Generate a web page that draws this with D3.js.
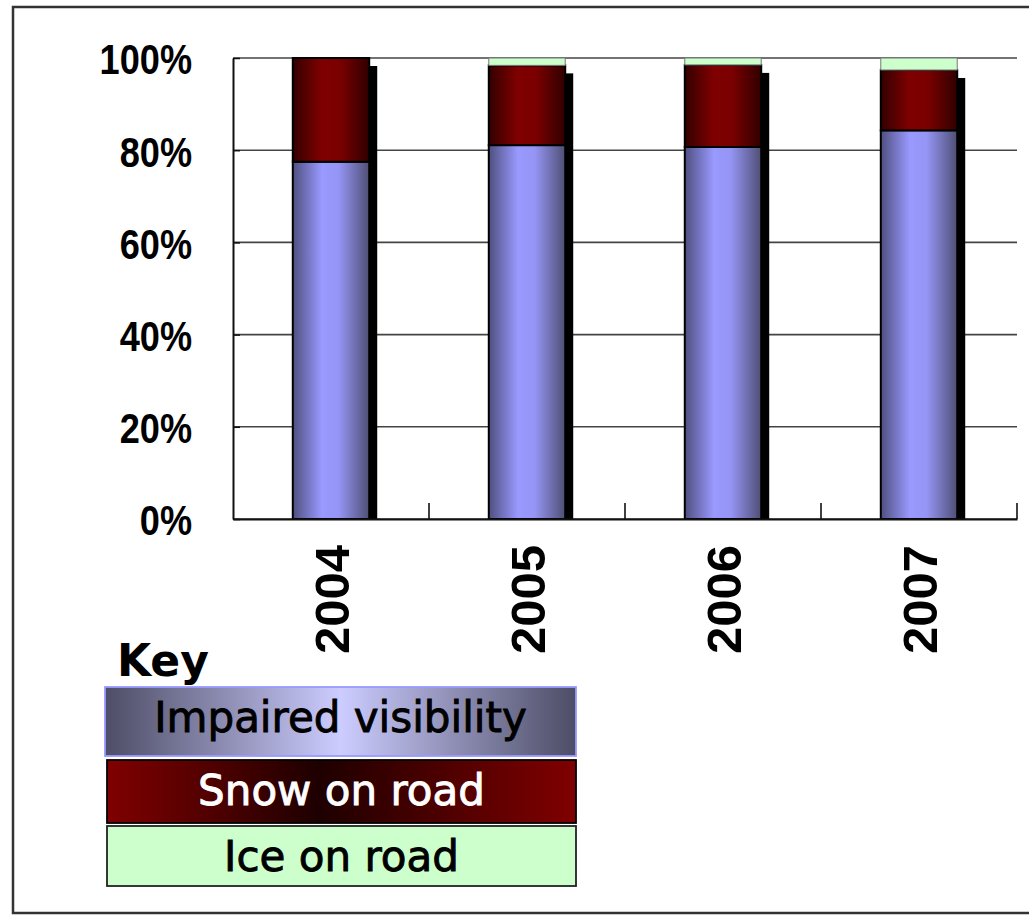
<!DOCTYPE html>
<html>
<head>
<meta charset="utf-8">
<script src="https://cdn.jsdelivr.net/npm/d3@7"></script>
<style>
  html, body { margin: 0; padding: 0; background: #fff; }
  svg { display: block; }
</style>
</head>
<body>
<svg id="chart" width="1029" height="915"></svg>
<script>
// ---- data ----
const years = ["2004", "2005", "2006", "2007"];
const impaired = [77.5, 81.1, 80.7, 84.3];
const snow = [22.5, 17.3, 17.8, 13.1];
const ice = [0, 1.6, 1.5, 2.6];
const yTicks = [0, 20, 40, 60, 80, 100];
const seriesNames = ["Impaired visibility", "Snow on road", "Ice on road"];

const rows = years.map((y, i) => ({ year: y, impaired: impaired[i], snow: snow[i], ice: ice[i] }));
const keys = ["impaired", "snow", "ice"];

const svg = d3.select("#chart");
const pLeft = 233, pRight = 1017, pTop = 58, pBottom = 519;

// outer frame
svg.append("rect").attr("x", 13).attr("y", 7).attr("width", 1040).attr("height", 906)
  .attr("fill", "none").attr("stroke", "#333").attr("stroke-width", 2.5);

const x = d3.scaleBand().domain(years).range([pLeft, pRight]).paddingInner(0.61).paddingOuter(0.305);
const y = d3.scaleLinear().domain([0, 100]).range([pBottom, pTop]);

// gradients
const defs = svg.append("defs");
function grad(id, stops) {
  const g = defs.append("linearGradient").attr("id", id).attr("x1", 0).attr("x2", 1).attr("y1", 0).attr("y2", 0);
  stops.forEach(s => g.append("stop").attr("offset", s[0]).attr("stop-color", s[1]));
}
grad("gImp", [[0, "#4f4f80"], [0.38, "#9999ff"], [0.6, "#9595f5"], [1, "#4f4f75"]]);
grad("gSnow", [[0, "#330000"], [0.38, "#800000"], [0.62, "#7a0000"], [1, "#300000"]]);
grad("gIce", [[0, "#ccffcc"], [1, "#ccffcc"]]);
grad("lImp", [[0, "#4d4d66"], [0.5, "#ccccff"], [1, "#4d4d66"]]);
grad("lSnow", [[0, "#800000"], [0.45, "#1e0000"], [1, "#800000"]]);
const fills = { impaired: "url(#gImp)", snow: "url(#gSnow)", ice: "url(#gIce)" };

// gridlines
svg.append("g").selectAll("line").data(yTicks).join("line")
  .attr("x1", pLeft).attr("x2", pRight)
  .attr("y1", d => y(d)).attr("y2", d => y(d))
  .attr("stroke", "#444").attr("stroke-width", 1.6);

// shadows
svg.append("g").selectAll("rect").data(rows).join("rect")
  .attr("x", d => x(d.year) + 8)
  .attr("width", x.bandwidth())
  .attr("y", d => y(d.impaired + d.snow) + 8)
  .attr("height", d => pBottom - y(d.impaired + d.snow) - 8)
  .attr("fill", "#000");

// stacked bars
const stack = d3.stack().keys(keys)(rows);
svg.append("g").selectAll("g").data(stack).join("g")
  .attr("fill", s => fills[s.key])
  .selectAll("rect").data(s => s.map(v => ({ v, key: s.key }))).join("rect")
  .attr("x", d => x(d.v.data.year))
  .attr("width", x.bandwidth())
  .attr("y", d => y(d.v[1]))
  .attr("height", d => y(d.v[0]) - y(d.v[1]))
  .attr("stroke", d => d.key === "ice" ? "#777" : "#000")
  .attr("stroke-width", d => d.key === "ice" ? 1 : 2);

// y axis
const yAxis = svg.append("g").attr("transform", `translate(${pLeft},0)`)
  .call(d3.axisLeft(y).tickValues(yTicks).tickFormat(d => d + "%").tickSizeInner(-7).tickSizeOuter(0).tickPadding(41));
yAxis.select(".domain").attr("stroke", "#111").attr("stroke-width", 2);
yAxis.selectAll(".tick line").attr("stroke", "#111").attr("stroke-width", 1.5);
yAxis.selectAll("text")
  .attr("font-family", "'Liberation Sans', Arial, sans-serif")
  .attr("font-weight", "bold")
  .attr("font-size", 42).attr("fill", "#000").attr("dy", "0.38em")
  .each(function () {
    const w = this.getComputedTextLength();
    d3.select(this).attr("textLength", w * 0.86).attr("lengthAdjust", "spacingAndGlyphs");
  });

// x axis
const xAxis = svg.append("g").attr("transform", `translate(0,${pBottom})`)
  .call(d3.axisBottom(x).tickSize(0).tickSizeOuter(0));
xAxis.select(".domain").attr("stroke", "#111").attr("stroke-width", 2);
xAxis.selectAll("text")
  .attr("font-family", "'Liberation Sans', Arial, sans-serif")
  .attr("font-weight", "bold")
  .attr("font-size", 49).attr("fill", "#000")
  .attr("x", 0).attr("y", 0).attr("dy", "0.36em")
  .attr("text-anchor", "end")
  .attr("transform", "translate(0,26) rotate(-90)");

// category boundary ticks (pointing up)
svg.append("g").selectAll("line").data(years).join("line")
  .attr("x1", d => x(d) + x.bandwidth() + (x.step() - x.bandwidth()) / 2)
  .attr("x2", d => x(d) + x.bandwidth() + (x.step() - x.bandwidth()) / 2)
  .attr("y1", pBottom).attr("y2", pBottom - 16)
  .attr("stroke", "#111").attr("stroke-width", 1.6);

// legend
const lg = svg.append("g");
lg.append("text").attr("x", 117).attr("y", 676).text("Key")
  .attr("font-family", "'DejaVu Sans', sans-serif").attr("font-weight", "bold")
  .attr("font-size", 44).attr("fill", "#000");

const legendItems = [
  { name: seriesNames[0], x: 105, y: 687, w: 471, h: 69, fill: "url(#lImp)", stroke: "#9999ff", text: "#000", base: 732 },
  { name: seriesNames[1], x: 107, y: 760, w: 469, h: 63, fill: "url(#lSnow)", stroke: "#000", text: "#fff", base: 805 },
  { name: seriesNames[2], x: 107, y: 826, w: 469, h: 60, fill: "#ccffcc", stroke: "#222", text: "#000", base: 871 }
];
const li = lg.selectAll("g.item").data(legendItems).join("g").attr("class", "item");
li.append("rect")
  .attr("x", d => d.x).attr("y", d => d.y).attr("width", d => d.w).attr("height", d => d.h)
  .attr("fill", d => d.fill).attr("stroke", d => d.stroke).attr("stroke-width", 1.8);
li.append("text")
  .attr("x", d => d.x + d.w / 2).attr("y", d => d.base)
  .attr("text-anchor", "middle")
  .attr("font-family", "'DejaVu Sans', sans-serif").attr("font-size", 42)
  .attr("fill", d => d.text)
  .attr("stroke", d => d.text).attr("stroke-width", 0.9)
  .text(d => d.name);
</script>
</body>
</html>
